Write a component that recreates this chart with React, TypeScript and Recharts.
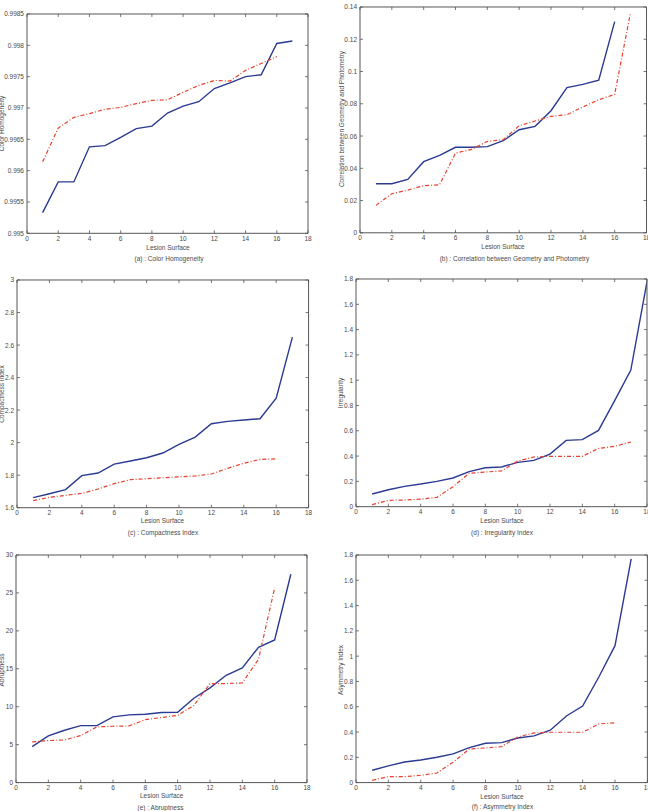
import React from 'react';
import { LineChart, Line, XAxis, YAxis } from 'recharts';

// Lesion surface index (x) shared by all panels
const xTicks = [0, 2, 4, 6, 8, 10, 12, 14, 16, 18];

// (a) Color Homogeneity
const colorHomBlue = [0.99533, 0.99582, 0.99582, 0.99638, 0.9964, 0.99653, 0.99667, 0.99671, 0.99692, 0.99703, 0.9971, 0.99731, 0.9974, 0.9975, 0.99753, 0.99803, 0.99807];
const colorHomRed = [0.99614, 0.99668, 0.99685, 0.99691, 0.99698, 0.99701, 0.99707, 0.99712, 0.99713, 0.99725, 0.99736, 0.99744, 0.99743, 0.9976, 0.99771, 0.99782];
const colorHomTicks = [0.995, 0.9955, 0.996, 0.9965, 0.997, 0.9975, 0.998, 0.9985];

// (b) Correlation between Geometry and Photometry
const corrBlue = [0.0304, 0.0304, 0.0331, 0.0441, 0.048, 0.053, 0.053, 0.0534, 0.0571, 0.0639, 0.066, 0.0757, 0.09, 0.092, 0.0947, 0.1309];
const corrRed = [0.017, 0.0242, 0.0265, 0.0292, 0.0298, 0.0494, 0.0517, 0.0567, 0.0577, 0.0664, 0.0693, 0.0722, 0.0732, 0.078, 0.0825, 0.0858, 0.1367];
const corrTicks = [0, 0.02, 0.04, 0.06, 0.08, 0.1, 0.12, 0.14];

// (c) Compactness Index
const compBlue = [1.6615, 1.686, 1.711, 1.797, 1.813, 1.868, 1.887, 1.907, 1.936, 1.989, 2.034, 2.116, 2.131, 2.139, 2.147, 2.274, 2.649];
const compRed = [1.643, 1.664, 1.676, 1.688, 1.715, 1.748, 1.772, 1.778, 1.784, 1.79, 1.795, 1.807, 1.842, 1.873, 1.897, 1.9];
const compTicks = [1.6, 1.8, 2, 2.2, 2.4, 2.6, 2.8, 3];

// (d) Irregularity Index
const irrBlue = [0.1, 0.134, 0.161, 0.179, 0.2, 0.227, 0.277, 0.308, 0.314, 0.35, 0.366, 0.416, 0.524, 0.53, 0.603, 0.838, 1.08, 1.78];
const irrRed = [0.016, 0.05, 0.053, 0.06, 0.074, 0.158, 0.264, 0.274, 0.282, 0.361, 0.393, 0.398, 0.398, 0.398, 0.461, 0.477, 0.511];
const irrTicks = [0, 0.2, 0.4, 0.6, 0.8, 1, 1.2, 1.4, 1.6, 1.8];

// (e) Abruptness
const abrBlue = [4.75, 6.15, 6.9, 7.51, 7.51, 8.66, 8.92, 9.0, 9.23, 9.27, 11.12, 12.48, 14.15, 15.11, 17.84, 18.8, 27.46];
const abrRed = [5.36, 5.54, 5.62, 6.2, 7.34, 7.43, 7.47, 8.3, 8.57, 8.87, 10.15, 13.05, 13.05, 13.14, 16.26, 25.66];
const abrTicks = [0, 5, 10, 15, 20, 25, 30];

// (f) Asymmetry Index
const asymBlue = [0.0975, 0.132, 0.163, 0.179, 0.2, 0.227, 0.277, 0.311, 0.316, 0.353, 0.369, 0.414, 0.527, 0.606, 0.835, 1.083, 1.77];
const asymRed = [0.018, 0.047, 0.047, 0.058, 0.076, 0.161, 0.266, 0.274, 0.285, 0.361, 0.393, 0.398, 0.398, 0.398, 0.464, 0.472];
const asymTicks = [0, 0.2, 0.4, 0.6, 0.8, 1, 1.2, 1.4, 1.6, 1.8];

const FONT = '"Liberation Sans", Arial, Helvetica, sans-serif';
const TEXT = '#4a4a4a';
const AXIS = '#555555';
const BLUE = '#2b3a92';
const RED = '#e8412c';
const FS = 6.5;
const TL = 3; // inward tick length
const LEFT_MARGIN = 3;
const BOTTOM_MARGIN = 2;
const BOTTOM_TEXT_DY = 3;

function buildRows(blue: number[], red: number[]) {
  const n = Math.max(blue.length, red.length);
  const rows: { x: number; blue?: number; red?: number }[] = [];
  for (let i = 0; i < n; i++) rows.push({ x: i + 1, blue: blue[i], red: red[i] });
  return rows;
}

// Left axis ticks; the lowest one also carries the x-origin label "0",
// which sits at the lower-left corner of the frame.
const LeftTick = (p: any) => {
  const axisX = p.x + LEFT_MARGIN;
  return (
    <g>
      <line x1={axisX} x2={axisX + TL} y1={p.y} y2={p.y} stroke={AXIS} strokeWidth={0.8} />
      <text x={p.x} y={p.y} textAnchor="end" dominantBaseline="central" fontSize={FS} fontFamily={FONT} fill={TEXT}>
        {String(p.payload.value)}
      </text>
      {p.index === 0 && (
        <text
          x={axisX}
          y={p.y + BOTTOM_MARGIN + BOTTOM_TEXT_DY}
          textAnchor="middle"
          dominantBaseline="central"
          fontSize={FS}
          fontFamily={FONT}
          fill={TEXT}
        >
          {String(xTicks[0])}
        </text>
      )}
    </g>
  );
};

const BottomTick = (p: any) => {
  const v = p.payload.value;
  return (
    <g>
      <line x1={p.x} x2={p.x} y1={p.y - BOTTOM_MARGIN} y2={p.y - BOTTOM_MARGIN - TL} stroke={AXIS} strokeWidth={0.8} />
      {v !== xTicks[0] && (
        <text x={p.x} y={p.y + BOTTOM_TEXT_DY} textAnchor="middle" dominantBaseline="central" fontSize={FS} fontFamily={FONT} fill={TEXT}>
          {String(v)}
        </text>
      )}
    </g>
  );
};

const TopTick = (p: any) => <line x1={p.x} x2={p.x} y1={p.y} y2={p.y + TL} stroke={AXIS} strokeWidth={0.8} />;
const RightTick = (p: any) => <line x1={p.x} x2={p.x - TL} y1={p.y} y2={p.y} stroke={AXIS} strokeWidth={0.8} />;

type PanelProps = {
  left: number; top: number; right: number; bottom: number;
  blue: number[]; red: number[]; yTicks: number[];
};

const PADL = 32, PADT = 4, PADR = 4, PADB = 14;

function Panel({ left, top, right, bottom, blue, red, yTicks }: PanelProps) {
  const w = right - left;
  const h = bottom - top;
  const data = buildRows(blue, red);
  const yDomain: [number, number] = [yTicks[0], yTicks[yTicks.length - 1]];
  return (
    <div style={{ position: 'absolute', left: left - PADL, top: top - PADT - 1 }}>
      <LineChart width={w + PADL + PADR + 1} height={h + PADT + PADB + 1} data={data}
        margin={{ top: PADT, right: PADR, bottom: 0, left: 0 }}>
        <XAxis xAxisId="b" dataKey="x" type="number" domain={[0, 18]} ticks={xTicks} interval={0}
          allowDataOverflow height={PADB} tickSize={0} tickMargin={BOTTOM_MARGIN} tickLine={false}
          axisLine={{ stroke: AXIS, strokeWidth: 1 }} tick={BottomTick} />
        <XAxis xAxisId="t" orientation="top" dataKey="x" type="number" domain={[0, 18]} ticks={xTicks}
          interval={0} allowDataOverflow height={1} tickSize={0} tickMargin={0} tickLine={false}
          axisLine={{ stroke: AXIS, strokeWidth: 1 }} tick={TopTick} />
        <YAxis yAxisId="l" type="number" domain={yDomain} ticks={yTicks} interval={0} allowDataOverflow
          width={PADL} tickSize={0} tickMargin={LEFT_MARGIN} tickLine={false}
          axisLine={{ stroke: AXIS, strokeWidth: 1 }} tick={LeftTick} />
        <YAxis yAxisId="r" orientation="right" type="number" domain={yDomain} ticks={yTicks} interval={0}
          allowDataOverflow width={1} tickSize={0} tickMargin={0} tickLine={false}
          axisLine={{ stroke: AXIS, strokeWidth: 1 }} tick={RightTick} />
        {/* carrier series so the top/right frame axes are laid out */}
        <Line xAxisId="t" yAxisId="r" type="linear" dataKey="blue" stroke="none" dot={false}
          legendType="none" isAnimationActive={false} />
        <Line xAxisId="b" yAxisId="l" type="linear" dataKey="blue" stroke={BLUE} strokeWidth={1.4}
          dot={false} isAnimationActive={false} />
        <Line xAxisId="b" yAxisId="l" type="linear" dataKey="red" stroke={RED} strokeWidth={1.2}
          strokeDasharray="4 2 1 2" dot={false} isAnimationActive={false} />
      </LineChart>
    </div>
  );
}

type Caption = { text: string; x: number; y: number; rotate?: boolean };

const captions: Caption[] = [
  { text: 'Color Homogeneity', x: 1.5, y: 123.5, rotate: true },
  { text: 'Lesion Surface', x: 168, y: 247 },
  { text: '(a) : Color Homogeneity', x: 169, y: 258 },
  { text: 'Correlation between Geometry and Photometry', x: 341, y: 119, rotate: true },
  { text: 'Lesion Surface', x: 503, y: 246 },
  { text: '(b) : Correlation between Geometry and Photometry', x: 514.5, y: 258 },
  { text: 'Compactness Index', x: 1.5, y: 394, rotate: true },
  { text: 'Lesion Surface', x: 162.5, y: 520.5 },
  { text: '(c) : Compactness Index', x: 163, y: 532 },
  { text: 'Irregularity', x: 340, y: 393, rotate: true },
  { text: 'Lesion Surface', x: 502, y: 520 },
  { text: '(d) : Irregularity Index', x: 502, y: 532 },
  { text: 'Abruptness', x: 1.5, y: 670, rotate: true },
  { text: 'Lesion Surface', x: 161.7, y: 795.3 },
  { text: '(e) : Abruptness', x: 160.5, y: 807 },
  { text: 'Asymmetry Index', x: 340, y: 670, rotate: true },
  { text: 'Lesion Surface', x: 502, y: 796 },
  { text: '(f) : Asymmetry Index', x: 502.5, y: 806.7 },
];

export default function App() {
  return (
    <div style={{ position: 'absolute', left: 0, top: 0, width: 648, height: 811, overflow: 'hidden', background: '#ffffff' }}>
      <Panel left={27.3} top={14} right={308.3} bottom={233.3} blue={colorHomBlue} red={colorHomRed} yTicks={colorHomTicks} />
      <Panel left={360} top={6.5} right={646.5} bottom={232.3} blue={corrBlue} red={corrRed} yTicks={corrTicks} />
      <Panel left={16.7} top={280} right={308.3} bottom={507.7} blue={compBlue} red={compRed} yTicks={compTicks} />
      <Panel left={356} top={279.3} right={647} bottom={507} blue={irrBlue} red={irrRed} yTicks={irrTicks} />
      <Panel left={15.7} top={554.7} right={306.7} bottom={782.3} blue={abrBlue} red={abrRed} yTicks={abrTicks} />
      <Panel left={356} top={554.7} right={647.4} bottom={782.3} blue={asymBlue} red={asymRed} yTicks={asymTicks} />
      <svg width={648} height={811} style={{ position: 'absolute', left: 0, top: 0, pointerEvents: 'none' }}>
        {captions.map((c, i) => (
          <text key={i} x={c.x} y={c.y} textAnchor="middle" dominantBaseline="central" fontSize={FS}
            fontFamily={FONT} fill={TEXT} transform={c.rotate ? `rotate(-90 ${c.x} ${c.y})` : undefined}>
            {c.text}
          </text>
        ))}
      </svg>
    </div>
  );
}
